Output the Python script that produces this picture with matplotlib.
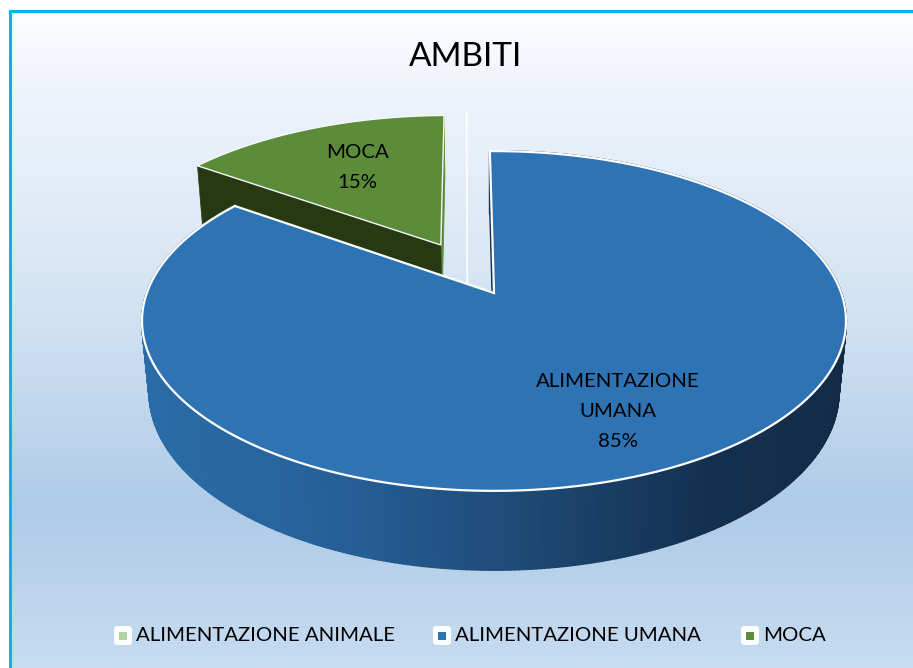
import numpy as np
import matplotlib
matplotlib.use("Agg")
import matplotlib.pyplot as plt
from matplotlib.colors import LinearSegmentedColormap
from matplotlib.collections import PolyCollection
from matplotlib.patches import FancyBboxPatch, Rectangle

plt.rcParams["font.family"] = ["Lato", "DejaVu Sans"]

title = "AMBITI"
categories = ["ALIMENTAZIONE ANIMALE", "ALIMENTAZIONE UMANA", "MOCA"]
values = [0, 85, 15]
colors = ["#b2d3a3", "#2e74b5", "#5c8c3a"]
slice_labels = [None, "ALIMENTAZIONE\nUMANA", "MOCA"]

# camera used for the fake 3d pie, everything is in pixels of the 913x668 image
cx, cy = 494, 293
focal = 1854
dist = 5.34
tilt = np.arcsin(0.476)
depth = 0.235
start_angle = -0.8
explode = [0.345, 0, 0.345]


def project(x, v, z=0.0):
    # x to the right, v going away from viewer, z up
    x, v = np.asarray(x, dtype=float), np.asarray(v, dtype=float)
    w = dist + v * np.cos(tilt) - z * np.sin(tilt)
    sx = cx + focal * x / w
    sy = cy - focal * (v * np.sin(tilt) + z * np.cos(tilt)) / w
    return np.column_stack([sx, sy])


def polar(a):
    a = np.radians(a)
    return np.sin(a), np.cos(a)


def arc_pts(a0, a1, off, z=0.0, n=200):
    a = np.linspace(a0, a1, n)
    x, v = polar(a)
    return project(x + off[0], v + off[1], z)


def face_pts(a, off):
    # flat cut face of a slice, from centre to rim and down
    x, v = polar(a)
    xs = [off[0], off[0] + x, off[0] + x, off[0]]
    vs = [off[1], off[1] + v, off[1] + v, off[1]]
    return np.vstack([project(xs[:2], vs[:2], 0), project(xs[2:], vs[2:], -depth)])


fig = plt.figure(figsize=(9.13, 6.68), dpi=100)
ax = fig.add_axes([0, 0, 1, 1])
ax.axis("off")

bg = LinearSegmentedColormap.from_list(
    "bg",
    [(0, "#fbfdff"), (0.12, "#eff4fb"), (0.45, "#d3e3f3"), (0.76, "#afcbe7"), (1, "#c7dcf1")],
)
ax.imshow(np.linspace(0, 1, 400).reshape(-1, 1), cmap=bg, aspect="auto",
          extent=(9, 913, 668, 10), zorder=0)
ax.set_xlim(0, 913)
ax.set_ylim(668, 0)
ax.plot([9.5, 9.5, 913], [668, 10.5, 10.5], color="#00b4f0", lw=2.2, zorder=1,
        solid_joinstyle="miter")

# slice angles, clockwise from the top
fracs = np.array(values) / sum(values)
ends = start_angle + np.cumsum(fracs) * 360
starts = ends - fracs * 360
offs = []
for s, e, ex in zip(starts, ends, explode):
    mx, mv = polar((s + e) / 2 if e > s else s - 13)
    offs.append((mx * ex, mv * ex))

# zero slice only shows as a white line
zero = face_pts(starts[0], offs[0])
ax.plot(zero[[1, 0, 3], 0], zero[[1, 0, 3], 1], color="white", lw=1.2, zorder=2)

# moca
g = 2
ax.fill(*face_pts(ends[g], offs[g]).T, color=colors[g], lw=0.6, zorder=3)
ax.fill(*face_pts(starts[g], offs[g]).T, color="#263913", ec="#263913", lw=0.5, zorder=3)
top = np.vstack([project([offs[g][0]], [offs[g][1]]), arc_pts(starts[g], ends[g], offs[g])])
ax.fill(*top.T, fc=colors[g], ec="#f4f8fc", lw=1.0, zorder=4)

# umana, outer wall split in small quads for the shading
b = 1
side = LinearSegmentedColormap.from_list(
    "side", [(0, "#2a6ca8"), (0.25, "#27619a"), (0.5, "#1f4d7b"), (0.8, "#14304f"), (1, "#132b47")]
)
up = arc_pts(starts[b], ends[b], offs[b], 0, 500)
down = arc_pts(starts[b], ends[b], offs[b], -depth, 500)
quads = [np.array([up[i], up[i + 1], down[i + 1], down[i]]) for i in range(len(up) - 1)]
shade = [side((q[:, 0].mean() - 141) / 706) for q in quads]
ax.fill(np.r_[up[:, 0], down[::-1, 0]], np.r_[up[:, 1], down[::-1, 1]],
        fc="none", ec="white", lw=1.4, zorder=5)
ax.add_collection(PolyCollection(quads, facecolors=shade, edgecolors=shade, lw=1.6, zorder=6))
ax.fill(*face_pts(starts[b], offs[b]).T, fc="#14304f", ec="#14304f", lw=1.0, zorder=6)
top = np.vstack([project([offs[b][0]], [offs[b][1]]), arc_pts(starts[b], ends[b], offs[b], 0, 500)])
ax.fill(*top.T, fc=colors[b], ec="white", lw=1.6, zorder=7, joinstyle="miter")

ax.text(466, 57, title, ha="center", va="center", fontsize=24, color="black", zorder=9)
ax.text(357, 167.5, "%s\n%d%%" % (slice_labels[2], values[2]), ha="center", va="center",
        fontsize=14.7, color="black", linespacing=1.9, zorder=9)
ax.text(618, 411.5, "%s\n%d%%" % (slice_labels[1], values[1]), ha="center", va="center",
        fontsize=14.7, color="black", linespacing=1.9, zorder=9)

# legend
box_x = [114, 433, 741]
for name, col, bx in zip(categories, colors, box_x):
    ax.add_patch(FancyBboxPatch((bx + 1, 627), 16, 17, boxstyle="round,pad=1,rounding_size=3",
                                fc="#fbfdff", ec="none", zorder=8))
    ax.add_patch(Rectangle((bx + 5, 632), 8, 8, fc=col, ec="none", zorder=9))
    ax.text(bx + 22, 635.5, name, ha="left", va="center", fontsize=14.7, color="black", zorder=9)

fig.savefig("out.png", dpi=100)
